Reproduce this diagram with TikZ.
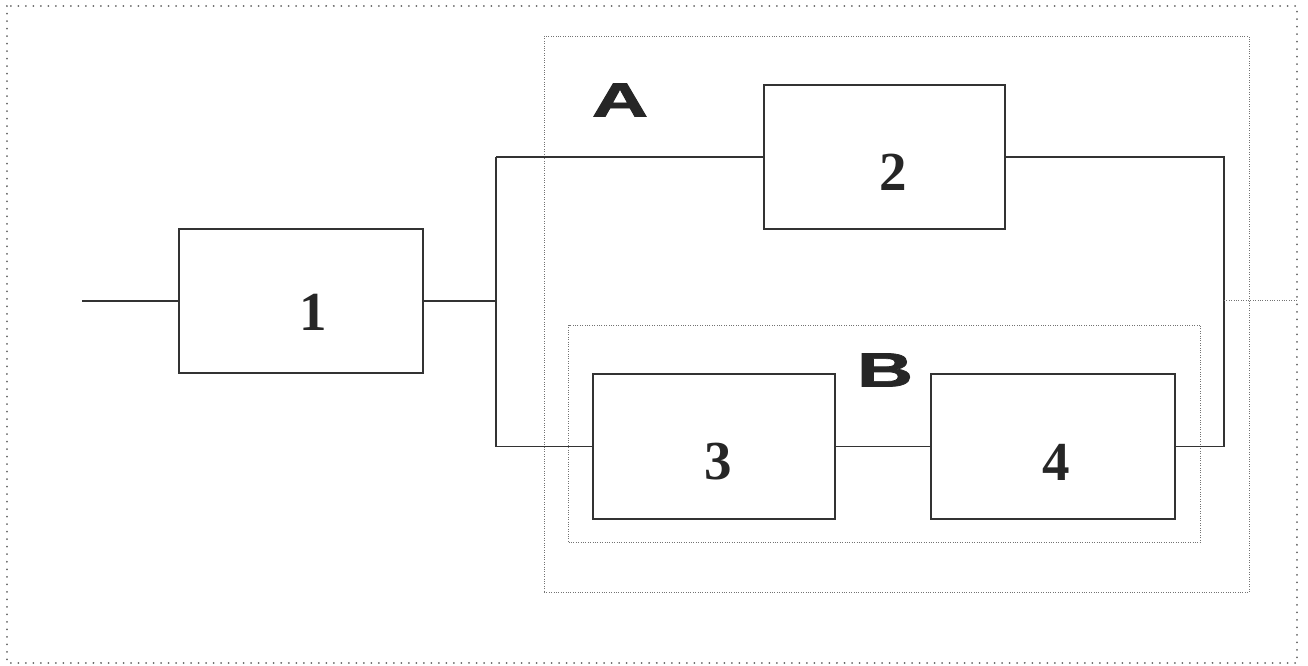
\documentclass[tikz,border=0pt]{standalone}
\usepackage{fontspec}
\setmainfont{Liberation Serif}
\newfontfamily\lettfont[BoldFeatures={FakeBold=1.5}]{Liberation Sans}
\begin{document}
\begin{tikzpicture}[x=1pt,y=-1pt,
  wire/.style={draw=black!80, line width=1.6pt},
  blk/.style={draw=black!80, line width=1.6pt, rectangle, inner sep=0pt},
  grp/.style={draw=black!55, line width=1pt, dash pattern=on 0.9pt off 1.5pt, rectangle, inner sep=0pt},
  frame/.style={draw=black!60, line width=2pt, dash pattern=on 0.01pt off 7.5pt, line cap=round},
  num/.style={font=\fontsize{55}{60}\selectfont\bfseries, text=black!85, inner sep=0pt},
  lett/.style={font=\lettfont\fontsize{48}{52}\selectfont\bfseries, text=black!85, inner sep=0pt, xscale=1.62}
]
\useasboundingbox (0,0) rectangle (1308,666);
% outer frame
\draw[frame] (7,6) rectangle (1297,663);
% groups
\node[grp, minimum width=705pt, minimum height=556pt] (gA) at (896.5,314.5) {};
\node[grp, minimum width=632pt, minimum height=217pt] (gB) at (884.5,433.5) {};
\node[lett] (lA) at (620,100) {A};
\node[lett] (lB) at (885,370) {B};
% blocks
\node[blk, minimum width=244pt, minimum height=144pt] (b1) at (301,301) {};
\node[blk, minimum width=241pt, minimum height=144pt] (b2) at (884.5,157) {};
\node[blk, minimum width=242pt, minimum height=145pt] (b3) at (714,446.5) {};
\node[blk, minimum width=244pt, minimum height=145pt] (b4) at (1053,446.5) {};
\node[num] (n1) at (313,312) {1};
\node[num] (n2) at (893,172) {2};
\node[num] (n3) at (718,462) {3};
\node[num] (n4) at (1056,462) {4};
% junctions
\coordinate (in) at (82,301);
\coordinate (jL) at (496,301);
\coordinate (jLT) at (496,157);
\coordinate (jLB) at (496,446.5);
\coordinate (jRT) at (1224,157);
\coordinate (jRB) at (1224,446.5);
\coordinate (jR) at (1224,300);
\coordinate (out) at (1297,300);
% wires
\draw[wire] (in) -- (b1.west);
\draw[wire] (b1.east) -- (jL);
\draw[wire] (jLT) -- (jLB);
\draw[wire] (jLT) -- (b2.west);
\draw[wire] (jLB) -- (b3.west);
\draw[wire] (b3.east) -- (b4.west);
\draw[wire] (b2.east) -- (jRT) -- (jRB) -- (b4.east);
\draw[grp] (jR) -- (out);
\end{tikzpicture}
\end{document}
